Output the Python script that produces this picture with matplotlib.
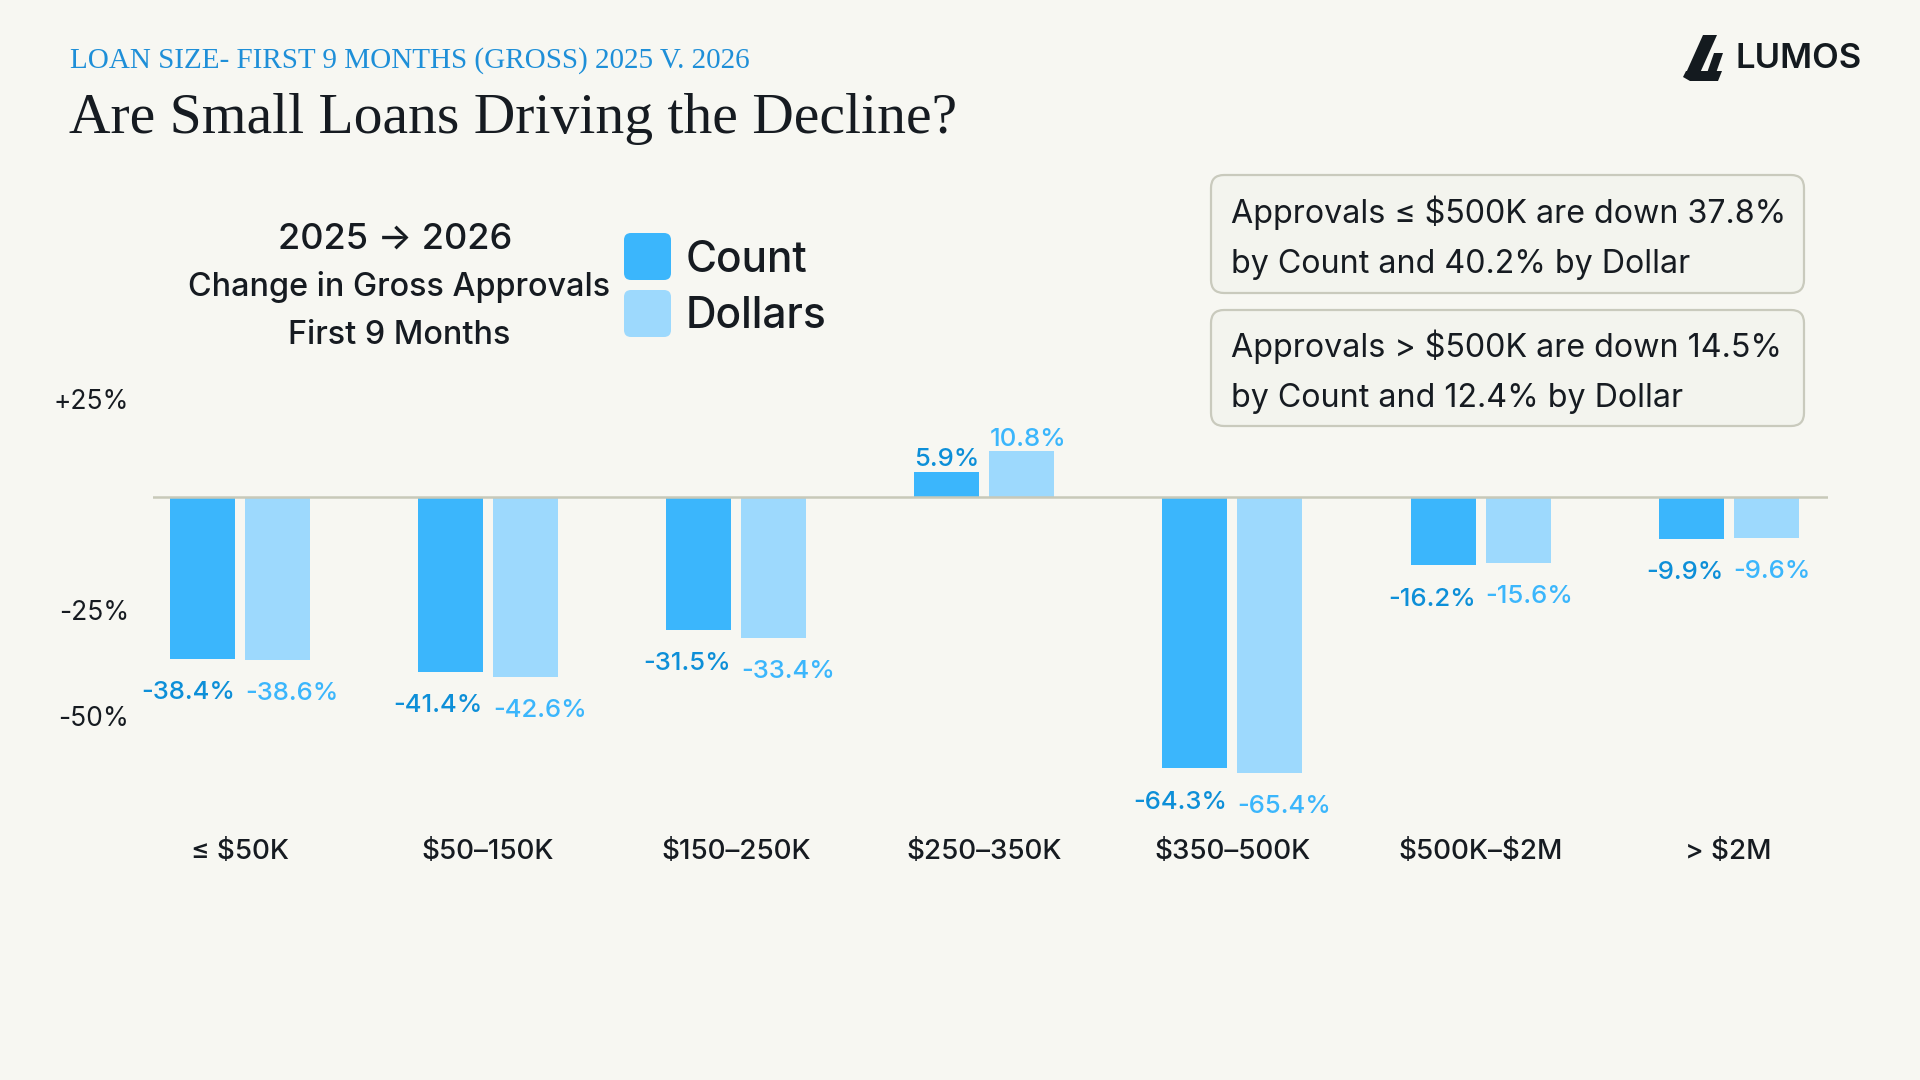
import matplotlib.pyplot as plt
import matplotlib.transforms as mtransforms
import numpy as np
from matplotlib.patches import FancyBboxPatch, Polygon

plt.rcParams["text.parse_math"] = False

# data
categories = ["≤ $50K", "$50–150K", "$150–250K", "$250–350K", "$350–500K", "$500K–$2M", "> $2M"]
count_change = [-38.4, -41.4, -31.5, 5.9, -64.3, -16.2, -9.9]
dollar_change = [-38.6, -42.6, -33.4, 10.8, -65.4, -15.6, -9.6]
y_ticks = [25, -25, -50]
y_tick_labels = ["+25%", "-25%", "-50%"]
notes = ["Approvals ≤ $500K are down 37.8%\nby Count and 40.2% by Dollar",
         "Approvals > $500K are down 14.5%\nby Count and 12.4% by Dollar"]

BG = "#f7f7f2"
DARK = "#161b21"
COUNT_C = "#3bb6fc"
DOLLAR_C = "#9dd9fd"
COUNT_LBL = "#0d8fd8"
DOLLAR_LBL = "#3bb6fc"
SANS = ["Inter", "DejaVu Sans"]
SERIF = ["Liberation Serif", "DejaVu Serif"]

W, H = 1920, 1080
fig = plt.figure(figsize=(W / 100, H / 100), dpi=100, facecolor=BG)

# main chart axes (pixel box: x 153-1828, y 300-880)
px_per_pct = 4.22
zero_y = 497
top_px, bot_px = 300, 880
ax = fig.add_axes([153 / W, 1 - bot_px / H, (1828 - 153) / W, (bot_px - top_px) / H])
ax.set_facecolor(BG)
ax.set_xlim(-0.35, 6.40)
ax.set_ylim(-(bot_px - zero_y) / px_per_pct, (zero_y - top_px) / px_per_pct)
for s in ax.spines.values():
    s.set_visible(False)

x = np.arange(len(categories))
off = 0.151
bw = 0.262
ax.bar(x - off, count_change, width=bw, color=COUNT_C, zorder=2)
ax.bar(x + off, dollar_change, width=bw, color=DOLLAR_C, zorder=2)
ax.axhline(0, color="#c8c9b9", lw=1.8, zorder=3)

# value labels: count label right-aligned to its bar, dollar label left-aligned
for i in range(len(categories)):
    for val, xc, col, side in [(count_change[i], x[i] - off, COUNT_LBL, -1),
                               (dollar_change[i], x[i] + off, DOLLAR_LBL, 1)]:
        edge = xc - side * bw / 2
        ha = "right" if side < 0 else "left"
        if val < 0:
            ax.annotate(f"{val:.1f}%", (edge, val), xytext=(0, -16), textcoords="offset points",
                        ha=ha, va="top", fontsize=18.5, color=col, family=SANS, fontweight="medium")
        else:
            ax.annotate(f"{val:.1f}%", (edge, val), xytext=(0, 0.5), textcoords="offset points",
                        ha=ha, va="bottom", fontsize=18.5, color=col, family=SANS, fontweight="medium")

cat_y = -(852 - zero_y) / px_per_pct
for i, c in enumerate(categories):
    ax.text(x[i], cat_y, c, ha="center", va="center", fontsize=20, color=DARK,
            family=SANS, fontweight="medium")

ax.set_xticks([])
ax.set_yticks(y_ticks)
ax.set_yticklabels(y_tick_labels, fontsize=19, color=DARK, family=SANS)
ax.tick_params(axis="y", length=0, pad=17)
shift = mtransforms.ScaledTranslation(0, -7.5 / 100, fig.dpi_scale_trans)
for lbl in ax.get_yticklabels():
    lbl.set_transform(lbl.get_transform() + shift)

# overlay in pixel coordinates for header, legend, notes and logo
ov = fig.add_axes([0, 0, 1, 1])
ov.set_xlim(0, W)
ov.set_ylim(H, 0)
ov.axis("off")

ov.text(70, 61, "LOAN SIZE- FIRST 9 MONTHS (GROSS) 2025 V. 2026", fontsize=21,
        color="#1e8fd8", family=SERIF, va="center", ha="left")
ov.text(69, 119, "Are Small Loans Driving the Decline?", fontsize=41.5,
        color=DARK, family=SERIF, va="center", ha="left")

# legend block
ov.text(395, 239, "2025 → 2026", fontsize=26, color=DARK, family=SANS,
        fontweight="medium", ha="center", va="center")
ov.text(399, 287, "Change in Gross Approvals", fontsize=23.3, color=DARK, family=SANS,
        fontweight="medium", ha="center", va="center")
ov.text(399, 336, "First 9 Months", fontsize=23.3, color=DARK, family=SANS,
        fontweight="medium", ha="center", va="center")
for y0, col, lab, dy in [(233, COUNT_C, "Count", 27), (290, DOLLAR_C, "Dollars", 26)]:
    ov.add_patch(FancyBboxPatch((627, y0 + 3), 41, 41, boxstyle="round,pad=3,rounding_size=7",
                                fc=col, ec="none"))
    ov.text(686, y0 + dy, lab, fontsize=30.5, color=DARK, family=SANS,
            fontweight="medium", ha="left", va="center")

# note boxes
for (y0, y1), note in zip([(175, 293), (310, 426)], notes):
    ov.add_patch(FancyBboxPatch((1211, y0), 593, y1 - y0, boxstyle="round,pad=0,rounding_size=13",
                                fc="#f3f4ee", ec="#c9cabd", lw=1.6))
    ov.text(1231, (y0 + y1) / 2 + 4, note, fontsize=23.2, color=DARK, family=SANS,
            ha="left", va="center", linespacing=1.8)

# logo
logo_col = "#141a1f"
ov.add_patch(Polygon([(1703, 35), (1717, 35), (1700, 73), (1686, 73)], closed=True, fc=logo_col, ec="none"))
ov.add_patch(Polygon([(1714, 53), (1723, 53), (1716, 73), (1707, 73)], closed=True, fc=logo_col, ec="none"))
ov.add_patch(Polygon([(1686, 71), (1722, 71), (1718, 81), (1690, 81), (1683, 77)], closed=True,
                     fc=logo_col, ec="none"))
ov.text(1736, 59, "LUMOS", fontsize=25, color=logo_col, family=SANS, fontweight="semibold",
        ha="left", va="center")

fig.savefig("out.png", dpi=100, facecolor=BG)
